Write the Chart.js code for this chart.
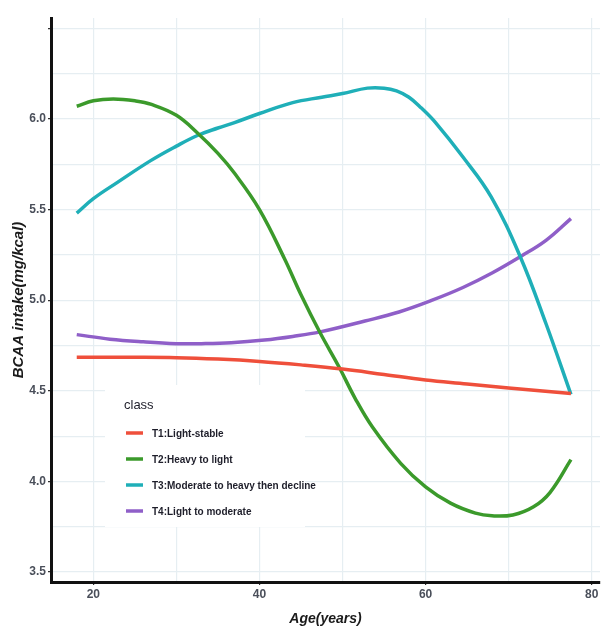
<!DOCTYPE html>
<html>
<head>
<meta charset="utf-8">
<script src="https://cdn.jsdelivr.net/npm/chart.js@4.4.1/dist/chart.umd.min.js"></script>
<style>
  html, body { margin: 0; padding: 0; background: #ffffff; }
  #wrap { width: 607px; height: 628px; position: relative; }
</style>
</head>
<body>
<div id="wrap"><canvas id="c" width="607" height="628"></canvas></div>
<script>
// ---- data ----
const seriesLabels = ["T1:Light-stable", "T2:Heavy to light", "T3:Moderate to heavy then decline", "T4:Light to moderate"];

const t1Ages   = [18, 25, 30, 35, 40, 45, 50, 55, 60, 65, 70, 77.5];
const t1Values = [4.685, 4.685, 4.683, 4.675, 4.662, 4.643, 4.62, 4.59, 4.56, 4.538, 4.515, 4.485];

const t2Ages   = [18, 20, 22.4, 25, 27, 30, 32.6, 35, 37, 40, 43, 45, 47.3, 49.6, 51.5, 53.6, 57, 60, 63, 66, 68, 70.5, 73, 75, 77.5];
const t2Values = [6.07, 6.10, 6.11, 6.10, 6.08, 6.02, 5.92, 5.81, 5.70, 5.50, 5.23, 5.03, 4.82, 4.63, 4.46, 4.30, 4.10, 3.97, 3.88, 3.825, 3.81, 3.815, 3.86, 3.94, 4.12];

const t3Ages   = [18, 20, 22.9, 26.9, 30, 32.6, 35, 37, 40, 44, 47.5, 50, 53, 55, 56.5, 58, 59.5, 61.2, 64.5, 67.9, 71.4, 74.5, 77.5];
const t3Values = [5.48, 5.56, 5.65, 5.77, 5.85, 5.91, 5.95, 5.98, 6.03, 6.09, 6.12, 6.14, 6.17, 6.17, 6.155, 6.12, 6.06, 5.98, 5.79, 5.57, 5.24, 4.87, 4.48];

const t4Ages   = [18, 22, 26, 30, 33, 36.6, 40.6, 44, 47.3, 52.7, 56.8, 60.8, 64.5, 68, 71.4, 74.5, 77.5];
const t4Values = [4.81, 4.785, 4.77, 4.76, 4.76, 4.765, 4.78, 4.80, 4.825, 4.885, 4.935, 5.00, 5.07, 5.15, 5.24, 5.33, 5.45];

const xTickValues = [20, 30, 40, 50, 60, 70, 80];
const xTickLabels = ["20", "", "40", "", "60", "", "80"];
const yTickValues = [3.5, 3.75, 4.0, 4.25, 4.5, 4.75, 5.0, 5.25, 5.5, 5.75, 6.0, 6.25, 6.5];
const yTickLabels = ["3.5", "", "4.0", "", "4.5", "", "5.0", "", "5.5", "", "6.0", "", ""];

const colors = ["#ef4f3b", "#3b9a2b", "#1fafb8", "#8f5fc8"];

// ---- build datasets ----
function pts(ages, vals) { return ages.map((a, i) => ({ x: a, y: vals[i] })); }
const allAges = [t1Ages, t2Ages, t3Ages, t4Ages];
const allVals = [t1Values, t2Values, t3Values, t4Values];
const datasets = seriesLabels.map((lab, i) => ({
  label: lab,
  data: pts(allAges[i], allVals[i]),
  borderColor: colors[i],
  backgroundColor: colors[i],
  borderWidth: 3.5,
  pointRadius: 0,
  tension: 0.4,
  fill: false
}));

const gridColor = "#e6eef2";
const tickFont = { family: "'Liberation Sans', Arial, sans-serif", size: 12, weight: 'bold' };

// custom legend inside the panel
const insideLegend = {
  id: 'insideLegend',
  afterDatasetsDraw(chart) {
    const ctx = chart.ctx;
    const a = chart.chartArea;
    const x0 = a.left + 54, y0 = a.top + 367;
    ctx.save();
    ctx.fillStyle = "#ffffff";
    ctx.fillRect(x0, y0, 200, 142);
    ctx.fillStyle = "#1e1e2a";
    ctx.font = "13px 'Liberation Sans', Arial, sans-serif";
    ctx.textBaseline = "middle";
    ctx.textAlign = "left";
    ctx.fillText("class", x0 + 19, y0 + 20);
    ctx.font = "bold 10px 'Liberation Sans', Arial, sans-serif";
    chart.data.datasets.forEach((ds, i) => {
      const yy = y0 + 48 + i * 26;
      ctx.strokeStyle = ds.borderColor;
      ctx.lineWidth = 3.5;
      ctx.beginPath();
      ctx.moveTo(x0 + 21, yy);
      ctx.lineTo(x0 + 38, yy);
      ctx.stroke();
      ctx.fillStyle = "#1e1e2a";
      ctx.fillText(ds.label, x0 + 47, yy + 1);
    });
    ctx.restore();
  }
};

new Chart(document.getElementById('c'), {
  type: 'line',
  data: { datasets },
  plugins: [insideLegend],
  options: {
    responsive: false,
    animation: false,
    layout: { padding: { top: 18, right: 7, left: 0, bottom: 0 } },
    plugins: { legend: { display: false }, tooltip: { enabled: false } },
    scales: {
      x: {
        type: 'linear',
        min: 14.9,
        max: 81,
        afterBuildTicks(scale) { scale.ticks = xTickValues.map(v => ({ value: v })); },
        afterFit(scale) { scale.height = 46; },
        ticks: {
          autoSkip: false,
          maxRotation: 0,
          color: "#4a4f5a",
          font: tickFont,
          padding: 2,
          callback(value) { const i = xTickValues.indexOf(value); return i >= 0 ? xTickLabels[i] : ""; }
        },
        grid: {
          color: gridColor,
          lineWidth: 1.2,
          tickLength: 3,
          tickColor(ctx) { const v = ctx.tick && ctx.tick.value; return (v % 20 === 0) ? "#333" : "rgba(0,0,0,0)"; }
        },
        border: { color: "#111111", width: 3 },
        title: {
          display: true,
          text: "Age(years)",
          color: "#1a1a1a",
          font: { family: "'Liberation Sans', Arial, sans-serif", size: 14, weight: 'bold', style: 'italic' },
          padding: { top: 0, bottom: 0 }
        }
      },
      y: {
        type: 'linear',
        min: 3.445,
        max: 6.557,
        afterBuildTicks(scale) { scale.ticks = yTickValues.map(v => ({ value: v })); },
        afterFit(scale) { scale.width = 51; },
        ticks: {
          autoSkip: false,
          color: "#4a4f5a",
          font: tickFont,
          padding: 2,
          callback(value) { const i = yTickValues.indexOf(value); return i >= 0 ? yTickLabels[i] : ""; }
        },
        grid: {
          color: gridColor,
          lineWidth: 1.2,
          tickLength: 3,
          tickColor(ctx) { const v = ctx.tick && ctx.tick.value; return (Math.abs(v * 2 - Math.round(v * 2)) < 1e-6) ? "#333" : "rgba(0,0,0,0)"; }
        },
        border: { color: "#111111", width: 3 },
        title: {
          display: true,
          text: "BCAA intake(mg/kcal)",
          color: "#1a1a1a",
          font: { family: "'Liberation Sans', Arial, sans-serif", size: 15, weight: 'bold', style: 'italic' },
          padding: { top: 10, bottom: 0 }
        }
      }
    }
  }
});
</script>
</body>
</html>
